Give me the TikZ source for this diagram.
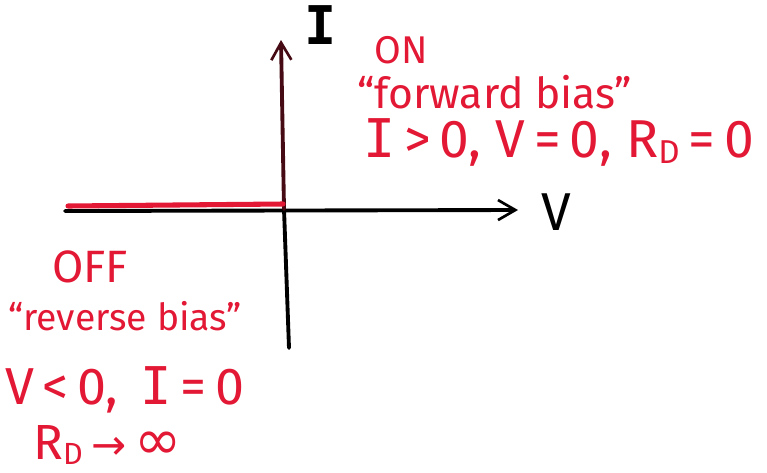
\documentclass[tikz,border=0pt]{standalone}
\usepackage{fontspec}
\setmainfont{Fira Sans}
\newfontfamily\monoI{DejaVu Sans Mono}
\newfontfamily\symf{DejaVu Sans}
\usetikzlibrary{arrows.meta}
\definecolor{hand}{RGB}{226,24,52}
\definecolor{darkaxis}{RGB}{70,10,20}
\newcommand{\bI}{{\monoI I}}
\newcommand{\subD}{\raisebox{-0.12em}{\scalebox{0.62}{D}}}
\tikzset{
  axis/.style={line width=2.9pt, line cap=round, -{Straight Barb[length=13pt,width=15pt,line width=2pt]}},
  lbl/.style={inner sep=0pt, anchor=base west, text=hand},
  axlbl/.style={inner sep=0pt, anchor=base west, text=black},
}
\begin{document}
\begin{tikzpicture}[x=0.75pt,y=-0.75pt]
\useasboundingbox (0,0) rectangle (767,472);
% axis end points
\coordinate (xl) at (65,211);
\coordinate (xr) at (518,210);
\coordinate (yb) at (289,348);
\coordinate (yt) at (281,40);
\coordinate (o) at (284,209);
\coordinate (rl) at (68,206);
\coordinate (ro) at (283,204);
% axes
\draw[axis] (xl) -- (xr);
\draw[line width=2.9pt, line cap=round] (yb) -- (o);
\draw[axis, darkaxis] (o) -- (yt);
% red off-state line
\draw[hand, line width=3.8pt, line cap=round] (rl) -- (ro);
% axis labels
\node[axlbl, font=\fontsize{40}{40}\selectfont\bfseries] (ilab) at (304,44) {\bI};
\node[axlbl, font=\fontsize{40}{40}\selectfont] (vlab) at (541,230) {V};
% ON text
\node[lbl, font=\fontsize{29}{29}\selectfont] (on) at (374,63) {ON};
\node[lbl, font=\fontsize{32}{32}\selectfont] (fb) at (357,108) {“forward bias”};
\node[lbl, font=\fontsize{40}{40}\selectfont] (oncond) at (363,157) {\bI\,>\,0, V\,=\,0, R\subD\,=\,0};
% OFF text
\node[lbl, font=\fontsize{34}{34}\selectfont] (off) at (52,282) {OFF};
\node[lbl, font=\fontsize{28}{28}\selectfont] (rb) at (8,330) {“reverse bias”};
\node[lbl, font=\fontsize{39}{39}\selectfont] (offcond) at (5,404) {V\,<\,0,\, \bI\,=\,0};
\node[lbl, font=\fontsize{37}{37}\selectfont] (rd) at (33,459) {R\subD\,{\symf\scalebox{0.85}{→}}\,{\symf\scalebox{1.15}{∞}}};
\end{tikzpicture}
\end{document}
